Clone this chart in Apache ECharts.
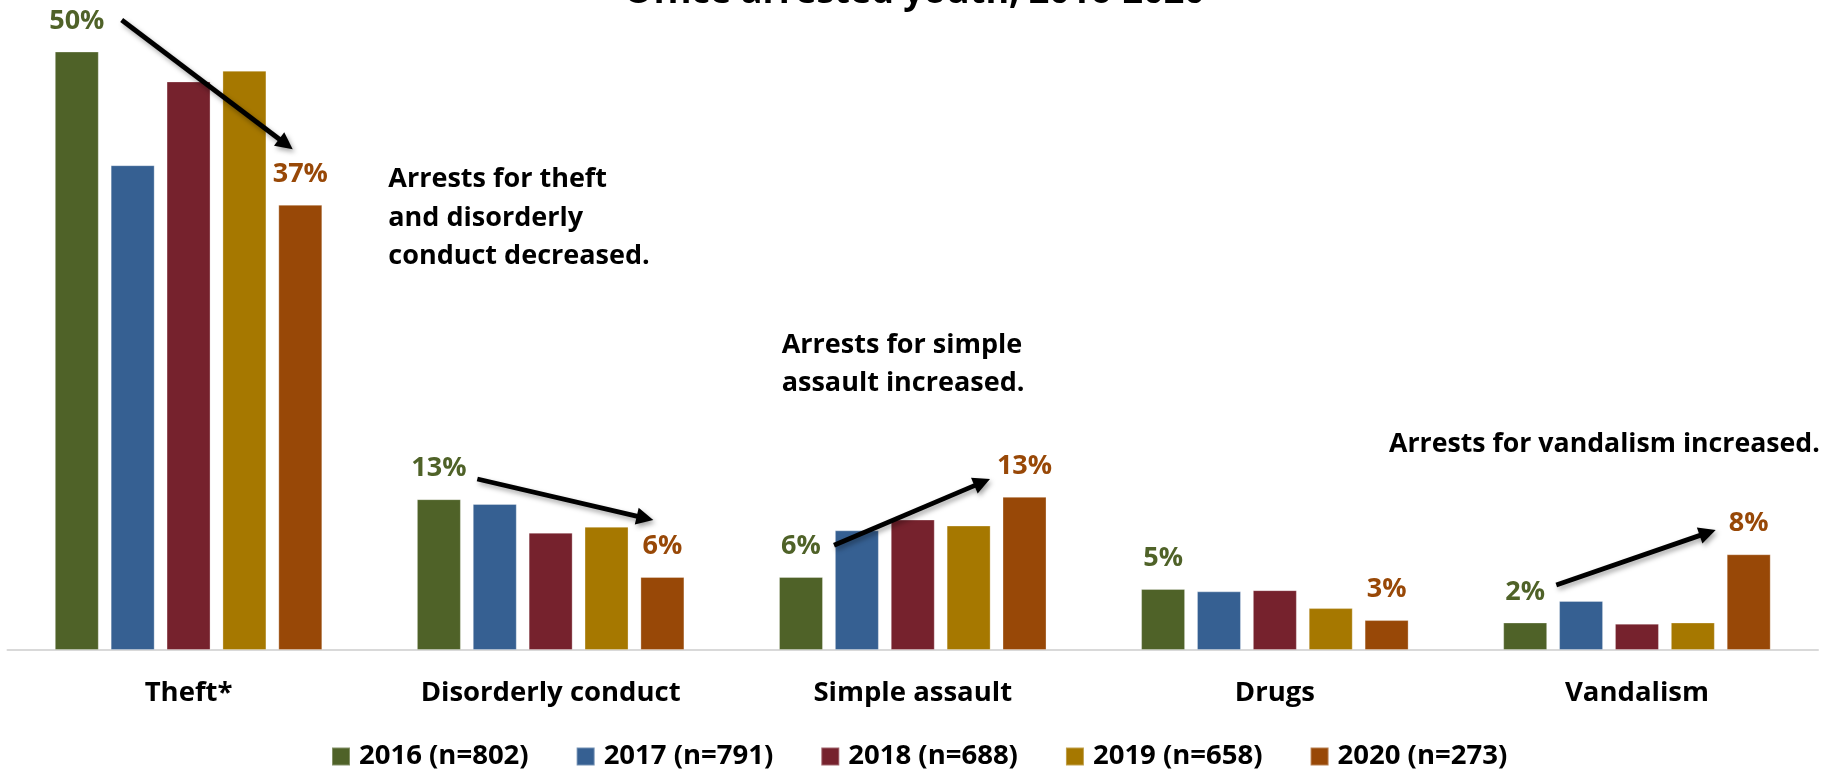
<!DOCTYPE html>
<html>
<head>
<meta charset="utf-8">
<script src="https://cdn.jsdelivr.net/npm/echarts@6/dist/echarts.min.js"></script>
<style>
html,body{margin:0;padding:0;background:#fff;}
#chart{width:1829px;height:769px;}
</style>
</head>
<body>
<div id="chart"></div>
<script>
// ---- data ----
const categories = ['Theft*', 'Disorderly conduct', 'Simple assault', 'Drugs', 'Vandalism'];
const seriesNames = ['2016 (n=802)', '2017 (n=791)', '2018 (n=688)', '2019 (n=658)', '2020 (n=273)'];
const v2016 = [50.0, 12.6, 6.1, 5.1, 2.3];
const v2017 = [40.5, 12.2, 10.0, 4.9, 4.1];
const v2018 = [47.5, 9.8, 10.9, 5.0, 2.2];
const v2019 = [48.4, 10.3, 10.4, 3.5, 2.3];
const v2020 = [37.2, 6.1, 12.8, 2.5, 8.0];
const titleText = 'Office arrested youth, 2016-2020';
const notes = [
  'Arrests for theft\nand disorderly\nconduct decreased.',
  'Arrests for simple\nassault increased.',
  'Arrests for vandalism increased.'
];

// ---- styling ----
const values = [v2016, v2017, v2018, v2019, v2020];
const colors = ['#4F6228', '#366092', '#76222D', '#A67800', '#984807'];
const FONT = '"Open Sans", "Noto Sans", sans-serif';
const labelled = [true, false, false, false, true];

function arrow(x1, y1, x2, y2) {
  const dx = x2 - x1, dy = y2 - y1, L = Math.hypot(dx, dy);
  const ux = dx / L, uy = dy / L;
  const hl = 17, hw = 8.5;
  const bx = x2 - ux * hl, by = y2 - uy * hl;
  const shadow = {shadowBlur: 5, shadowColor: 'rgba(0,0,0,0.35)', shadowOffsetX: 2, shadowOffsetY: 3};
  return {
    type: 'group', z: 100,
    children: [
      {type: 'line', z: 100, shape: {x1: x1, y1: y1, x2: bx + ux * 2, y2: by + uy * 2},
       style: Object.assign({stroke: '#000', lineWidth: 4.8, lineCap: 'butt'}, shadow)},
      {type: 'polygon', z: 100, shape: {points: [[x2, y2], [bx - uy * hw, by + ux * hw], [bx + uy * hw, by - ux * hw]]},
       style: Object.assign({fill: '#000'}, shadow)}
    ]
  };
}

function note(text, x, y, lh, fs) {
  return {
    type: 'text', z: 100, x: x, y: y,
    style: {text: text, fill: '#000', font: 'bold ' + fs + 'px ' + FONT, lineHeight: lh,
            textAlign: 'left', textVerticalAlign: 'top'}
  };
}

const chart = echarts.init(document.getElementById('chart'));
chart.setOption({
  backgroundColor: '#fff',
  animation: false,
  title: {
    text: titleText, left: 'center', top: -25, padding: 0,
    textStyle: {fontFamily: FONT, fontWeight: 'bold', fontSize: 36, lineHeight: 36, color: '#000'}
  },
  legend: {
    data: seriesNames, left: 331, top: 740, padding: 0, itemGap: 47,
    itemWidth: 18, itemHeight: 18, icon: 'rect',
    textStyle: {fontFamily: FONT, fontWeight: 'bold', fontSize: 27.5, lineHeight: 28, color: '#000',
                padding: [0, 0, 5, 4]}
  },
  grid: {left: 7.5, right: 11, top: 51.5, bottom: 119, containLabel: false},
  xAxis: {
    type: 'category', data: categories,
    axisLine: {lineStyle: {color: '#D9D9D9', width: 2}},
    axisTick: {show: false},
    axisLabel: {margin: 29, fontFamily: FONT, fontWeight: 'bold', fontSize: 27.5, lineHeight: 28, color: '#000'}
  },
  yAxis: {type: 'value', min: 0, max: 50, show: false, splitLine: {show: false}},
  series: seriesNames.map((name, i) => ({
    name: name, type: 'bar', data: values[i],
    barWidth: 44, barGap: '27%',
    itemStyle: {color: colors[i], borderColor: 'rgba(255,255,255,0.3)', borderWidth: 1},
    label: {
      show: labelled[i], position: 'top', distance: 17,
      formatter: p => Math.round(p.value) + '%',
      fontFamily: FONT, fontWeight: 'bold', fontSize: 27, lineHeight: 27, color: colors[i]
    }
  })),
  graphic: [
    arrow(121.7, 20, 292.7, 149.3),
    arrow(477.3, 479, 653.3, 520),
    arrow(834, 545.3, 990, 479),
    arrow(1556.3, 585, 1715.7, 530),
    note(notes[0], 388.3, 160.5, 38.3, 27),
    note(notes[1], 781.7, 327, 37.3, 27),
    note(notes[2], 1389, 430, 28, 26.7)
  ]
});
</script>
</body>
</html>
